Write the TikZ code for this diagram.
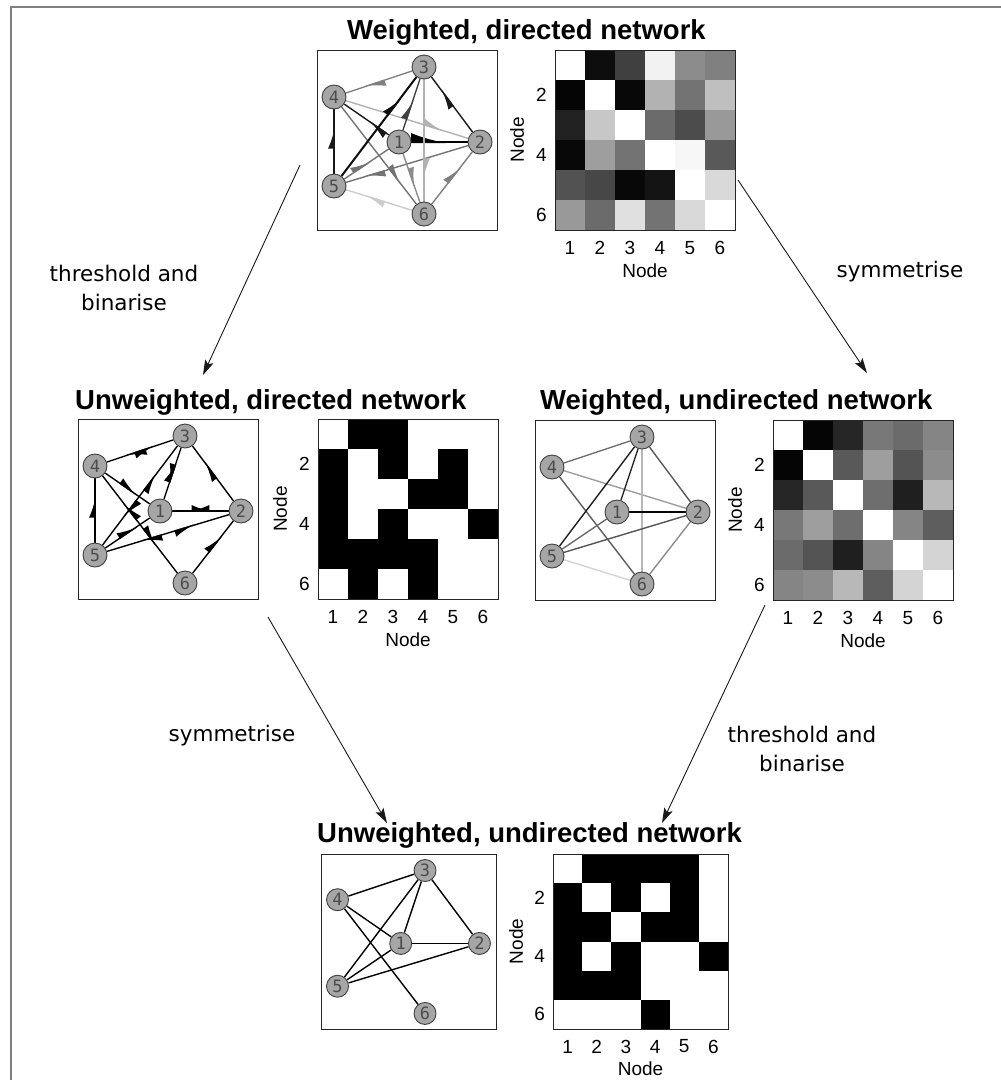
\documentclass[tikz,border=0pt]{standalone}
\usepackage{fontspec}
\setmainfont{Liberation Sans}
\newfontfamily\lblfont{DejaVu Sans}
\newfontfamily\numfont{DejaVu Sans Mono}
\usetikzlibrary{arrows.meta,decorations.markings,backgrounds}

\tikzset{
  gnode/.style={circle, draw=black!75, line width=0.9pt, fill=black!35, inner sep=0pt, minimum size=24pt, font=\numfont\fontsize{17}{17}\selectfont, text=black!70},
  gbox/.style={draw=black!85, line width=1pt, inner sep=0pt, fill=none},
  mframe/.style={draw=black!85, line width=1pt, inner sep=0pt},
  ttl/.style={font=\bfseries\fontsize{27.5}{30}\selectfont, anchor=base west, inner sep=0pt},
  axl/.style={font=\fontsize{19}{22}\selectfont, inner sep=0pt},
  lbl/.style={font=\lblfont\fontsize{21.5}{29}\selectfont, align=center, inner sep=0pt},
  flow/.style={-{Stealth[length=15pt,width=9pt,inset=3pt]}, line width=0.9pt, black!90},
  ed/.style={line width=1.4pt},
  fw/.style={postaction={decorate, decoration={markings, mark=at position #1 with {\arrow{Latex[harpoon,length=18pt,width=12pt]}}}}},
  fw/.default=0.72,
  bw/.style={postaction={decorate, decoration={markings, mark=at position #1 with {\arrowreversed{Latex[harpoon,length=18pt,width=12pt]}}}}},
  bw/.default=0.28,
  bigfw/.style={postaction={decorate, decoration={markings, mark=at position #1 with {\arrow{Latex[harpoon,length=30pt,width=18pt]}}}}},
}

\newcommand{\mkgraph}[3]{%
  \node[gbox, minimum width=#2, minimum height=#2, anchor=north west] (#1-box) at (0,0) {};
  \node[gnode, minimum size=#3] (#1-1) at (82,92) {1};
  \node[gnode, minimum size=#3] (#1-2) at (163,92) {2};
  \node[gnode, minimum size=#3] (#1-3) at (107,17) {3};
  \node[gnode, minimum size=#3] (#1-4) at (17,47) {4};
  \node[gnode, minimum size=#3] (#1-5) at (17,136) {5};
  \node[gnode, minimum size=#3] (#1-6) at (107,164) {6};
}

\newcommand{\mkmatrix}[3]{%
  \foreach \rowdata [count=\rr] in {#3} {
    \foreach \vv [count=\cc] in \rowdata {
      \fill[black!\vv] ({(\cc-1)*30},{(\rr-1)*30}) rectangle ++(30,30);
    }
  }
  \node[mframe, minimum width=#2, minimum height=#2, anchor=north west] (#1) at (0,0) {};
  \node[axl, anchor=east] (#1-y2) at (-8,45) {2};
  \node[axl, anchor=east] (#1-y4) at (-8,105) {4};
  \node[axl, anchor=east] (#1-y6) at (-8,165) {6};
  \node[axl, rotate=90] (#1-yt) at (-38,90) {Node};
  \foreach \i in {1,...,6} {
    \node[axl] (#1-x\i) at ({(\i-0.5)*30},198) {\i};
  }
  \node[axl] (#1-xt) at (90,221) {Node};
}

\begin{document}
\begin{tikzpicture}[x=1pt,y=-1pt]
\useasboundingbox (0,0) rectangle (1001,1080);
\draw[black!50, line width=1.6pt] (11,1080) -- (11,7) -- (1001,7);

% ---------- Panel 1: weighted, directed ----------
\node[ttl] (t1) at (347,39) {Weighted, directed network};
\begin{scope}[shift={(317,50)}]
  \mkgraph{a}{180pt}{24pt}
\end{scope}
\begin{scope}[shift={(555,50)}]
  \mkmatrix{m1}{180pt}{{0,95,75,5,45,50},{98,0,97,30,55,25},{87,22,0,58,70,40},{97,38,55,0,3,65},{68,72,97,92,0,15},{40,58,12,55,15,0}}
\end{scope}

% ---------- Panel 2: unweighted, directed ----------
\node[ttl] (t2) at (75,409) {Unweighted, directed network};
\begin{scope}[shift={(78,419)}]
  \mkgraph{b}{180pt}{24pt}
\end{scope}
\begin{scope}[shift={(318,419)}]
  \mkmatrix{m2}{180pt}{{0,100,100,0,0,0},{100,0,100,0,100,0},{100,0,0,100,100,0},{100,0,100,0,0,100},{100,100,100,100,0,0},{0,100,0,100,0,0}}
\end{scope}

% ---------- Panel 3: weighted, undirected ----------
\node[ttl] (t3) at (540,409) {Weighted, undirected network};
\begin{scope}[shift={(535,420)}]
  \mkgraph{c}{180pt}{24pt}
\end{scope}
\begin{scope}[shift={(773,420)}]
  \mkmatrix{m3}{180pt}{{0,98,85,53,58,48},{98,0,65,38,67,45},{85,65,0,57,88,28},{53,38,57,0,48,63},{58,67,88,48,0,17},{48,45,28,63,17,0}}
\end{scope}

% ---------- Panel 4: unweighted, undirected ----------
\node[ttl] (t4) at (317,842) {Unweighted, undirected network};
\begin{scope}[shift={(321,854)}, scale=0.9722]
  \mkgraph{d}{175pt}{22pt}
\end{scope}
\begin{scope}[shift={(553,854)}, scale=0.9722]
  \mkmatrix{m4}{175pt}{{0,100,100,100,100,0},{100,0,100,0,100,0},{100,100,0,100,100,0},{100,0,100,0,0,100},{100,100,100,0,0,0},{0,0,0,100,0,0}}
\end{scope}

% ---------- edges (behind the nodes) ----------
\begin{pgfonlayer}{background}
  % panel 1
  \draw[ed, black!50, fw] (a-3) -- (a-4);
  \draw[ed, black!90, fw=0.78] (a-2) -- (a-3);
  \draw[ed, black!90, fw=0.45] (a-1) -- (a-4);
  \draw[ed, black!30, fw=0.8] (a-4) -- (a-2);
  \draw[ed, black!55, fw=0.8] (a-4) -- (a-6);
  \draw[ed, black!90, fw] (a-5) -- (a-4);
  \draw[line width=2pt, black!95, fw=0.8] (a-5) -- (a-3);
  \draw[ed, black!75, fw=0.6] (a-1) -- (a-3);
  \draw[line width=2pt, black, bigfw=0.62] (a-1) -- (a-2);
  \draw[ed, black!55, fw=0.6] (a-5) -- (a-1);
  \draw[ed, black!55, fw=0.85] (a-2) -- (a-5);
  \draw[ed, black!20, fw] (a-6) -- (a-5);
  \draw[ed, black!30, fw=0.82] (a-3) -- (a-6);
  \draw[ed, black!45, fw] (a-1) -- (a-6);
  \draw[ed, black!50, fw] (a-6) -- (a-2);
  % panel 2
  \draw[ed, black, fw, bw] (b-1) -- (b-2);
  \draw[ed, black, fw, bw] (b-1) -- (b-3);
  \draw[ed, black, fw] (b-2) -- (b-3);
  \draw[ed, black, fw, bw] (b-2) -- (b-5);
  \draw[ed, black, fw, bw] (b-3) -- (b-4);
  \draw[ed, black, fw, bw] (b-3) -- (b-5);
  \draw[ed, black, fw] (b-4) -- (b-1);
  \draw[ed, black, fw] (b-5) -- (b-1);
  \draw[ed, black, fw, bw] (b-4) -- (b-6);
  \draw[ed, black, fw] (b-5) -- (b-4);
  \draw[ed, black, fw] (b-6) -- (b-2);
  % panel 3
  \draw[ed, black!57] (c-3) -- (c-4);
  \draw[ed, black!38] (c-2) -- (c-4);
  \draw[ed, black!63] (c-4) -- (c-6);
  \draw[ed, black!85] (c-1) -- (c-3);
  \draw[ed, black!88] (c-3) -- (c-5);
  \draw[ed, black!65] (c-2) -- (c-3);
  \draw[ed, black!28] (c-3) -- (c-6);
  \draw[ed, black!98] (c-1) -- (c-2);
  \draw[ed, black!58] (c-1) -- (c-5);
  \draw[ed, black!67] (c-2) -- (c-5);
  \draw[ed, black!17] (c-5) -- (c-6);
  \draw[ed, black!45] (c-2) -- (c-6);
  % panel 4
  \draw[ed, black] (d-1) -- (d-2);
  \draw[ed, black] (d-1) -- (d-3);
  \draw[ed, black] (d-1) -- (d-4);
  \draw[ed, black] (d-1) -- (d-5);
  \draw[ed, black] (d-2) -- (d-3);
  \draw[ed, black] (d-2) -- (d-5);
  \draw[ed, black] (d-3) -- (d-4);
  \draw[ed, black] (d-3) -- (d-5);
  \draw[ed, black] (d-4) -- (d-6);
\end{pgfonlayer}

% ---------- transformation arrows ----------
\coordinate (s1) at (300,165);
\coordinate (e1) at (203,375);
\coordinate (s2) at (738,180);
\coordinate (e2) at (867,373);
\coordinate (s3) at (268,617);
\coordinate (e3) at (387,823);
\coordinate (s4) at (765,605);
\coordinate (e4) at (662,823);
\draw[flow] (s1) -- (e1);
\draw[flow] (s2) -- (e2);
\draw[flow] (s3) -- (e3);
\draw[flow] (s4) -- (e4);

\node[lbl] (l1) at (124,288) {threshold and\\binarise};
\node[lbl] (l2) at (900,272) {symmetrise};
\node[lbl] (l3) at (232,736) {symmetrise};
\node[lbl] (l4) at (802,749) {threshold and\\binarise};
\end{tikzpicture}
\end{document}
